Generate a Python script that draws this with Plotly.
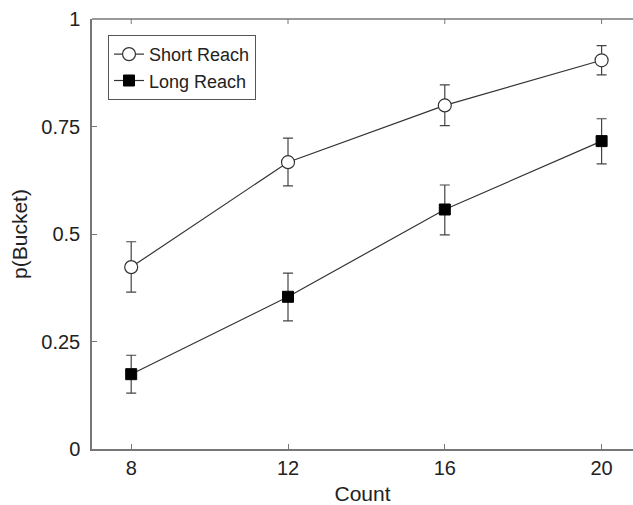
import plotly.graph_objects as go

counts = [8, 12, 16, 20]
short_mean = [0.423, 0.667, 0.799, 0.904]
short_err_plus = [0.059, 0.056, 0.048, 0.034]
short_err_minus = [0.058, 0.055, 0.047, 0.034]
long_mean = [0.174, 0.354, 0.557, 0.716]
long_err_plus = [0.044, 0.055, 0.057, 0.052]
long_err_minus = [0.044, 0.056, 0.059, 0.053]
y_ticks = [0, 0.25, 0.5, 0.75, 1]
y_tick_labels = ["0", "0.25", "0.5", "0.75", "1"]

line_col = "#333333"
err_col = "#444444"
axis_col = "#777777"

fig = go.Figure()
fig.add_trace(go.Scatter(
    x=counts, y=short_mean, name="Short Reach", mode="lines+markers",
    line=dict(color=line_col, width=1.2),
    marker=dict(symbol="circle", size=13, color="white", line=dict(color=line_col, width=1.2)),
    error_y=dict(type="data", array=short_err_plus, arrayminus=short_err_minus,
                 color=err_col, thickness=1.2, width=5),
))
fig.add_trace(go.Scatter(
    x=counts, y=long_mean, name="Long Reach", mode="lines+markers",
    line=dict(color=line_col, width=1.2),
    marker=dict(symbol="square", size=11, color="black", line=dict(color="black", width=1)),
    error_y=dict(type="data", array=long_err_plus, arrayminus=long_err_minus,
                 color=err_col, thickness=1.2, width=5),
))

# top frame line and top ticks (axis decoration)
fig.add_shape(type="line", xref="paper", yref="paper", x0=0, x1=1, y0=1, y1=1,
              line=dict(color=axis_col, width=1.5))
for c in counts:
    fig.add_shape(type="line", xref="x", yref="paper", x0=c, x1=c, y0=1, y1=1 - 5 / 430,
                  line=dict(color=axis_col, width=1))

font_family = "Liberation Sans, Arial, sans-serif"
fig.update_layout(
    width=633, height=505,
    margin=dict(l=92, r=0, t=19, b=56),
    paper_bgcolor="white", plot_bgcolor="white",
    font=dict(family=font_family, size=20, color="#222222"),
    showlegend=True,
    legend=dict(x=0.0296, y=0.963, xanchor="left", yanchor="top",
                bordercolor="#555555", borderwidth=1, bgcolor="white",
                font=dict(size=18, color="#222222"), tracegroupgap=0,
                itemwidth=30),
    xaxis=dict(range=[7, 7 + 541 / 39.2], tickvals=counts, ticktext=[str(c) for c in counts],
               showline=True, linecolor=axis_col, linewidth=1.5, mirror=False,
               ticks="inside", ticklen=5, tickcolor=axis_col, showgrid=False, zeroline=False,
               title=dict(text="Count", font=dict(size=21), standoff=9),
               tickfont=dict(size=20)),
    yaxis=dict(range=[0, 1], tickvals=y_ticks, ticktext=y_tick_labels,
               showline=True, linecolor=axis_col, linewidth=1.5, mirror=False,
               ticks="inside", ticklen=5, tickcolor=axis_col, showgrid=False, zeroline=False,
               title=dict(text="p(Bucket)", font=dict(size=21), standoff=8),
               tickfont=dict(size=20), ticklabelstandoff=6),
)

fig.write_html("out.html")
